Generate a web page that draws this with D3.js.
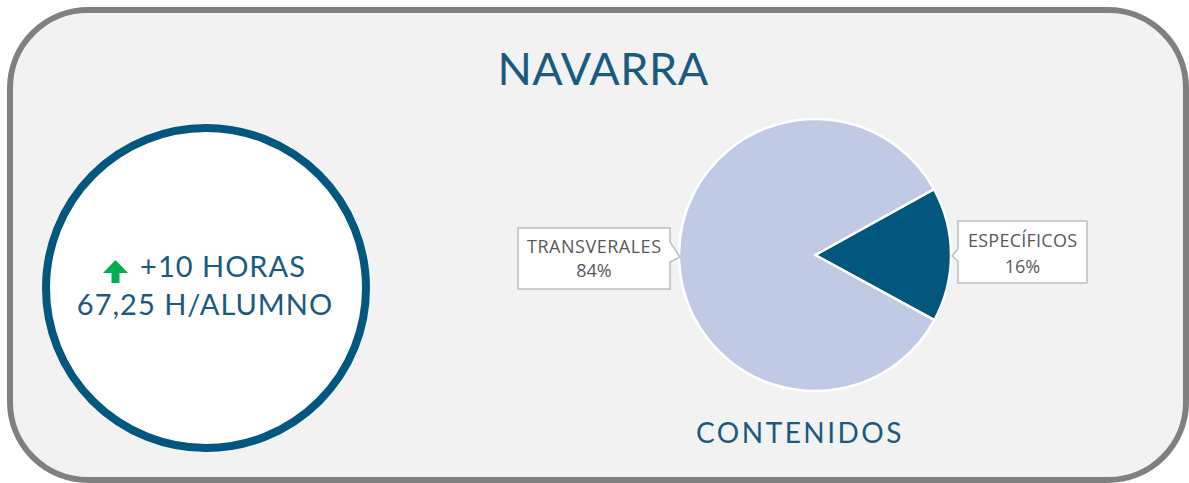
<!DOCTYPE html>
<html lang="es">
<head>
    <meta charset="UTF-8">
    <title>Navarra</title>
    <script src="https://d3js.org/d3.v7.min.js"></script>
    <style>
        body { margin: 0; background: #ffffff; }
        svg { display: block; }
    </style>
</head>
<body>
<svg width="1189" height="483" class="chart"></svg>

<script>
    // datos
    var titulo = "NAVARRA"
    var subtitulo = "CONTENIDOS"
    var categorias = ["ESPECÍFICOS", "TRANSVERALES"]
    var valores = [16, 84]
    var colores = ["#02577f", "#c0cae4"]
    var kpiLineas = ["+10 HORAS", "67,25 H/ALUMNO"]

    var svg = d3.select("svg.chart")
    var azul = "#1b5a80"

    // marco redondeado
    svg.append("rect")
        .attr("x", 10).attr("y", 10)
        .attr("width", 1176).attr("height", 470)
        .attr("rx", 78).attr("ry", 78)
        .attr("fill", "#f2f2f2")
        .attr("stroke", "#808080")
        .attr("stroke-width", 6)

    svg.append("text")
        .attr("x", 603).attr("y", 85)
        .attr("text-anchor", "middle")
        .attr("font-family", "Lato")
        .attr("font-size", "45px")
        .attr("letter-spacing", "0.5px")
        .attr("fill", azul)
        .text(titulo)

    // circulo KPI
    var kpi = svg.append("g").attr("transform", "translate(206,288)")
    kpi.append("circle")
        .attr("r", 160)
        .attr("fill", "#ffffff")
        .attr("stroke", "#02577f")
        .attr("stroke-width", 8)

    kpi.append("path")
        .attr("d", "M0,-12 L12.5,1 L4,1 L4,11 L-4,11 L-4,1 L-12.5,1 Z")
        .attr("transform", "translate(-90.5,-16)")
        .attr("fill", "#00b050")

    kpi.append("text")
        .attr("x", 17).attr("y", -11)
        .attr("text-anchor", "middle")
        .attr("font-family", "Lato")
        .attr("font-size", "29px")
        .attr("letter-spacing", "1px")
        .attr("fill", azul)
        .text(kpiLineas[0])
    kpi.append("text")
        .attr("x", -1).attr("y", 27)
        .attr("text-anchor", "middle")
        .attr("font-family", "Lato")
        .attr("font-size", "29px")
        .attr("letter-spacing", "1px")
        .attr("fill", azul)
        .text(kpiLineas[1])

    // tarta
    var cx = 815, cy = 255, radio = 136
    var inicio = 61 * Math.PI / 180
    var pie = d3.pie().sort(null)
        .startAngle(inicio).endAngle(inicio + 2 * Math.PI)
        .value(function (d) { return d.valor })
    var arc = d3.arc().innerRadius(0).outerRadius(radio)

    var datos = categorias.map(function (c, i) {
        return {cat: c, valor: valores[i], color: colores[i]}
    })

    var g = svg.append("g").attr("transform", "translate(" + cx + "," + cy + ")")
    g.selectAll(".slice")
        .data(pie(datos))
        .enter().append("path")
        .attr("class", "slice")
        .attr("d", arc)
        .attr("fill", function (d) { return d.data.color })
        .attr("stroke", "#ffffff")
        .attr("stroke-width", 2.5)
        .attr("stroke-linejoin", "round")

    // etiquetas con flecha
    var total = d3.sum(valores)
    var cajas = [
        {x: 958, y: 221, w: 129, h: 62, lado: "izq", l1: 26, l2: 52},
        {x: 518, y: 228, w: 152, h: 61, lado: "der", l1: 25, l2: 49}
    ]
    pie(datos).forEach(function (d, i) {
        var b = cajas[i]
        var p
        if (b.lado === "izq") {
            p = "M" + b.x + "," + b.y + " H" + (b.x + b.w) + " V" + (b.y + b.h) + " H" + b.x +
                " V" + (b.y + 40) + " L" + (b.x - 6) + "," + (b.y + 35) + " L" + b.x + "," + (b.y + 28) + " Z"
        } else {
            var rx = b.x + b.w
            p = "M" + b.x + "," + b.y + " H" + rx + " V" + (b.y + 14) + " L" + (rx + 10) + "," + (b.y + 29) +
                " L" + rx + "," + (b.y + 34) + " V" + (b.y + b.h) + " H" + b.x + " Z"
        }
        svg.append("path")
            .attr("d", p)
            .attr("fill", "#ffffff")
            .attr("stroke", "#bfbfbf")
            .attr("stroke-width", 1.5)
        var t = svg.append("text")
            .attr("text-anchor", "middle")
            .attr("font-family", "Open Sans")
            .attr("font-size", "18px")
            .attr("fill", "#595959")
        t.append("tspan")
            .attr("x", b.x + b.w / 2).attr("y", b.y + b.l1)
            .attr("textLength", i === 0 ? 109 : 134)
            .text(d.data.cat)
        t.append("tspan")
            .attr("x", b.x + b.w / 2).attr("y", b.y + b.l2)
            .text(Math.round(d.data.valor / total * 100) + "%")
    })

    svg.append("text")
        .attr("x", 800).attr("y", 443)
        .attr("text-anchor", "middle")
        .attr("font-family", "Lato")
        .attr("font-size", "28px")
        .attr("letter-spacing", "2.5px")
        .attr("fill", azul)
        .text(subtitulo)
</script>
</body>
</html>
